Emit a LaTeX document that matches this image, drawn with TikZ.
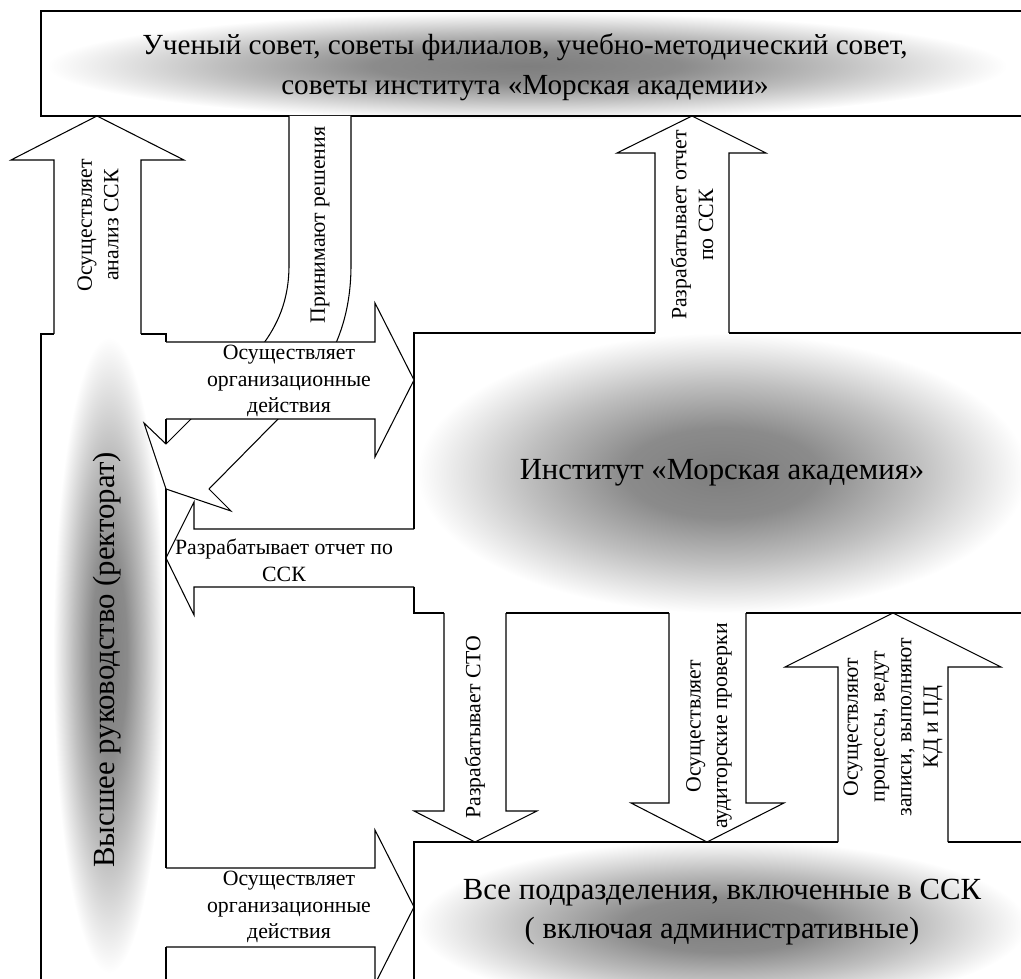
\documentclass[tikz,border=0pt]{standalone}
\usepackage{fontspec}
\setmainfont{Liberation Serif}
\usepackage{xcolor}
\definecolor{GLOWcolor}{HTML}{7e7e7e}
\usepackage{tikz}
\pgfdeclareradialshading{glow}{\pgfpoint{0bp}{0bp}}{%
    color(0bp)=(GLOWcolor); color(8bp)=(GLOWcolor!90!white);
    color(16bp)=(GLOWcolor!50!white); color(25bp)=(white); color(50bp)=(white)}

\begin{document}
\begin{tikzpicture}[x=0.02cm, y=-0.02cm, line width=0.6pt]

    \tikzset{%
        boxtext/.style={align=center, font=\fontsize{17.5}{22.1}\selectfont},
        toptext/.style={align=center, font=\fontsize{16.6}{22.9}\selectfont},
        arrowtext/.style={align=center, font=\fontsize{12.4}{15.2}\selectfont, inner sep=0pt},
        block/.style={fill=white},
    }

    \useasboundingbox (0, 0) rectangle (1021, 979);
    \clip (0, 0) rectangle (1021, 979);

    % glow behind the four boxes
    \shade [shading=glow] (527, 66) ellipse [x radius=480, y radius=54];
    \shade [shading=glow] (109, 655) ellipse [x radius=56, y radius=318];
    \shade [shading=glow] (722, 473) ellipse [x radius=305, y radius=140];
    \shade [shading=glow] (722, 925) ellipse [x radius=305, y radius=85];

    % boxes
    \draw (1031, 11) -- (41, 11) -- (41, 116) -- (1031, 116);
    \draw (54, 334) -- (41, 334) -- (41, 990);
    \draw (141, 334) -- (166, 334) -- (166, 342);
    \draw (166, 419) -- (166, 868);
    \draw (166, 947) -- (166, 990);
    \draw (655, 333) -- (414, 333) -- (414, 529);
    \draw (729, 333) -- (1031, 333);
    \draw (414, 587) -- (414, 613) -- (444, 613);
    \draw (506, 613) -- (669, 613);
    \draw (746, 613) -- (1031, 613);
    \draw (414, 990) -- (414, 842) -- (838, 842);
    \draw (948, 842) -- (1031, 842);

    % block arrows
    \draw (54, 334) -- (54, 160) -- (11, 160) -- (97, 116) -- (184, 160) -- (141, 160) -- (141, 334);
    \draw [block] (289, 116) -- (289, 265) .. controls (289, 335) and (245, 365) .. (191, 419)
        -- (166, 444) -- (144, 423) -- (166, 489) -- (231, 511) -- (209, 489)
        -- (278, 419) .. controls (322, 380) and (351, 335) .. (351, 265) -- (351, 116);
    \draw [block] (166, 342) -- (375, 342) -- (375, 303) -- (414, 380) -- (375, 457) -- (375, 419) -- (166, 419);
    \draw (655, 333) -- (655, 153) -- (617, 153) -- (692, 116) -- (766, 153) -- (729, 153) -- (729, 333);
    \draw (414, 529) -- (194, 529) -- (194, 502) -- (166, 558) -- (194, 615) -- (194, 587) -- (414, 587);
    \draw (444, 613) -- (444, 811) -- (414, 811) -- (475, 842) -- (537, 811) -- (506, 811) -- (506, 613);
    \draw (669, 613) -- (669, 803) -- (631, 803) -- (707, 842) -- (784, 803) -- (746, 803) -- (746, 613);
    \draw (838, 842) -- (838, 667) -- (785, 667) -- (893, 613) -- (1001, 667) -- (948, 667) -- (948, 842);
    \draw (166, 868) -- (375, 868) -- (375, 830) -- (414, 907) -- (375, 984) -- (375, 947) -- (166, 947);

    % texts
    \node [toptext] (council) at (525, 67) {Ученый совет, советы филиалов, учебно-методический совет,\\советы института «Морская академии»};
    \node [boxtext, rotate=90] (rector) at (107, 660) {Высшее руководство (ректорат)};
    \node [boxtext] (institute) at (722, 473) {Институт «Морская академия»};
    \node [boxtext] (units) at (722, 912) {Все подразделения, включенные в ССК\\( включая административные)};

    \node [arrowtext, rotate=90] (lblAnalysis) at (98, 225) {Осуществляет\\анализ ССК};
    \node [arrowtext, rotate=90] (lblDecide) at (320, 225) {Принимают решения};
    \node [arrowtext, rotate=90] (lblReportUp) at (692, 225) {Разрабатывает отчет\\по ССК};
    \node [arrowtext] (lblOrgTop) at (289, 381) {Осуществляет\\организационные\\действия};
    \node [arrowtext] (lblReportLeft) at (284, 560) {Разрабатывает отчет по\\ССК};
    \node [arrowtext, rotate=90] (lblSTO) at (475, 727) {Разрабатывает СТО};
    \node [arrowtext, rotate=90] (lblAudit) at (709, 726) {Осуществляет\\аудиторские проверки};
    \node [arrowtext, rotate=90] (lblProc) at (893, 727) {Осуществляют\\процессы, ведут\\записи, выполняют\\КД и ПД};
    \node [arrowtext] (lblOrgBottom) at (289, 907) {Осуществляет\\организационные\\действия};

\end{tikzpicture}
\end{document}
